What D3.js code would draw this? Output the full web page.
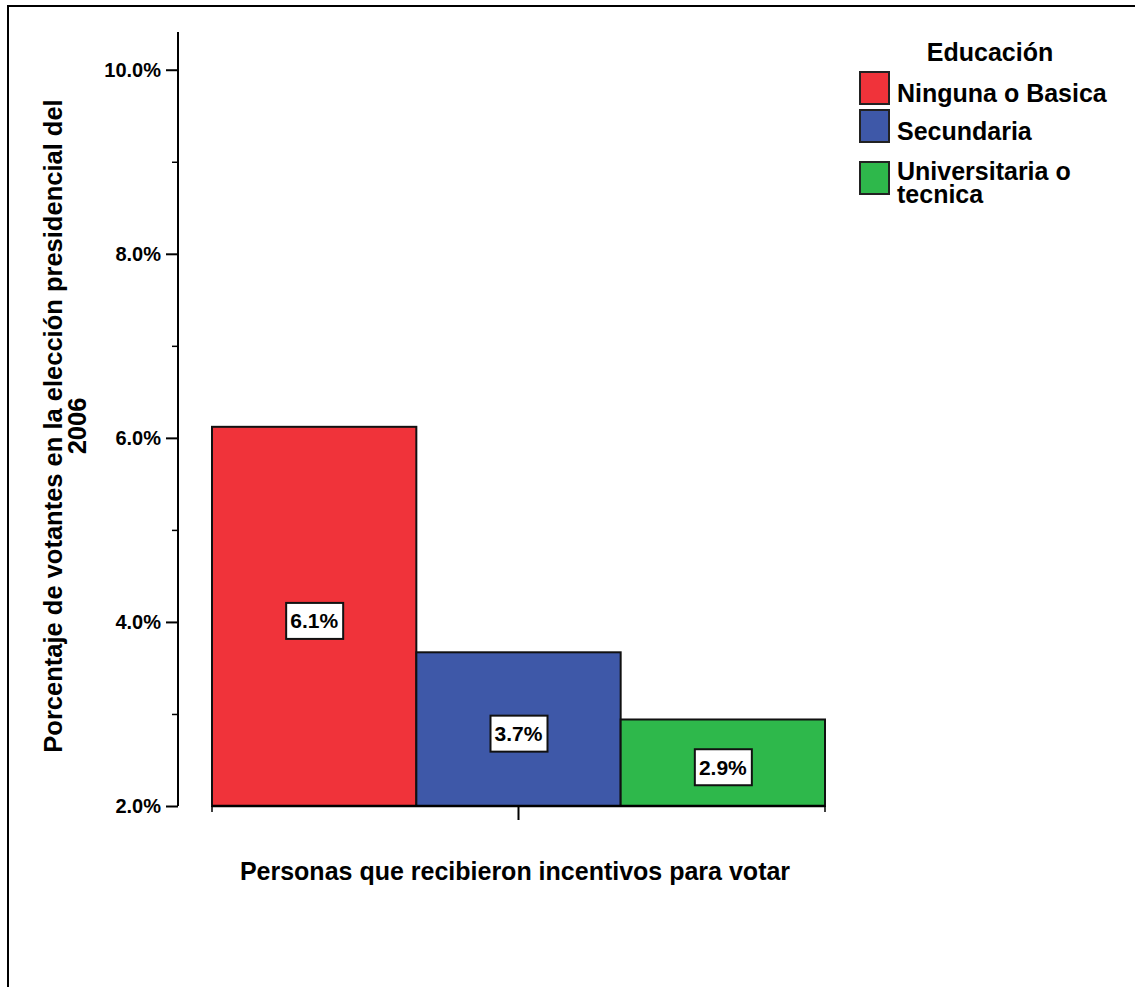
<!DOCTYPE html>
<html>
<head>
<meta charset="utf-8">
<script src="https://cdn.jsdelivr.net/npm/d3@7"></script>
<style>
  html, body { margin: 0; padding: 0; background: #fff; }
  svg text { font-family: "Liberation Sans", Arial, sans-serif; font-weight: bold; fill: #000; }
</style>
</head>
<body>
<div id="chart"></div>
<script>
// Data
const series = ['Ninguna o Basica', 'Secundaria', 'Universitaria o tecnica'];
const legendLines = [['Ninguna o Basica'], ['Secundaria'], ['Universitaria o', 'tecnica']];
const values = [6.12, 3.67, 2.94];
const colors = ['#f0333a', '#3e58a8', '#2eb84b'];
const majorTicks = [2, 4, 6, 8, 10];
const minorTicks = [3, 5, 7, 9];

const W = 1135, H = 987;
const svg = d3.select('#chart').append('svg')
  .attr('width', W)
  .attr('height', H);

// outer frame
svg.append('rect')
  .attr('x', 8).attr('y', 6)
  .attr('width', W + 20).attr('height', H + 20)
  .attr('fill', 'none')
  .attr('stroke', '#000')
  .attr('stroke-width', 2);

// Scales
const y = d3.scaleLinear().domain([2, 10.41]).range([806, 32]);
const x = d3.scaleBand().domain(series).range([212, 825]).padding(0);

// Bars
svg.selectAll('.bar')
  .data(series)
  .enter()
  .append('rect')
  .attr('class', 'bar')
  .attr('x', d => x(d))
  .attr('y', (d, i) => y(values[i]))
  .attr('width', x.bandwidth())
  .attr('height', (d, i) => y(2) - y(values[i]))
  .attr('fill', (d, i) => colors[i])
  .attr('stroke', '#111')
  .attr('stroke-width', 2);

// Y axis (major + minor)
const yAxis = svg.append('g')
  .attr('transform', 'translate(178,0)')
  .call(d3.axisLeft(y).tickValues(majorTicks).tickSize(12).tickPadding(5)
    .tickFormat(d => d.toFixed(1) + '%'));
yAxis.selectAll('text').style('font-size', '20px');
yAxis.selectAll('line').attr('stroke', '#000').attr('stroke-width', 2);
yAxis.select('.domain').attr('stroke', '#000').attr('stroke-width', 2)
  .attr('d', `M0,${y.range()[1]}V${y.range()[0]}`);

const yMinor = svg.append('g')
  .attr('transform', 'translate(178,0)')
  .call(d3.axisLeft(y).tickValues(minorTicks).tickSize(6).tickFormat(''));
yMinor.select('.domain').remove();
yMinor.selectAll('line').attr('stroke', '#000').attr('stroke-width', 1.5);

// X axis: baseline, cluster bounds and center tick
const xAxisG = svg.append('g');
xAxisG.append('line')
  .attr('x1', x.range()[0]).attr('x2', x.range()[1])
  .attr('y1', y(2)).attr('y2', y(2))
  .attr('stroke', '#000').attr('stroke-width', 2.5);
xAxisG.selectAll('.edge')
  .data(x.range())
  .enter()
  .append('line')
  .attr('x1', d => d).attr('x2', d => d)
  .attr('y1', y(2)).attr('y2', y(2) + 6)
  .attr('stroke', '#000').attr('stroke-width', 1.5);
const xMid = (x.range()[0] + x.range()[1]) / 2;
xAxisG.append('line')
  .attr('x1', xMid).attr('x2', xMid)
  .attr('y1', y(2)).attr('y2', y(2) + 14)
  .attr('stroke', '#000').attr('stroke-width', 2);

// Value labels
const labels = svg.selectAll('.vlabel')
  .data(series)
  .enter()
  .append('g')
  .attr('class', 'vlabel')
  .attr('transform', (d, i) => `translate(${x(d) + x.bandwidth() / 2},${(y(values[i]) + y(2)) / 2 + 4.5})`);
labels.append('rect')
  .attr('x', -28).attr('y', -18)
  .attr('width', 57).attr('height', 36)
  .attr('fill', '#fff')
  .attr('stroke', '#111')
  .attr('stroke-width', 2);
labels.append('text')
  .attr('text-anchor', 'middle')
  .attr('dy', '0.36em')
  .style('font-size', '21px')
  .text((d, i) => values[i].toFixed(1) + '%');

// Axis titles
svg.append('text')
  .attr('x', 515)
  .attr('y', 880)
  .attr('text-anchor', 'middle')
  .style('font-size', '25px')
  .text('Personas que recibieron incentivos para votar');

const yTitle = svg.append('text')
  .attr('transform', 'translate(62,426) rotate(-90)')
  .attr('text-anchor', 'middle')
  .style('font-size', '25.5px');
yTitle.append('tspan').attr('x', 0).attr('y', 0)
  .text('Porcentaje de votantes en la elección presidencial del');
yTitle.append('tspan').attr('x', 0).attr('y', 24)
  .text('2006');

// Legend
const legend = svg.append('g');
legend.append('text')
  .attr('x', 990)
  .attr('y', 61)
  .attr('text-anchor', 'middle')
  .style('font-size', '25px')
  .text('Educación');
const swatchY = [72, 110, 162];
const items = legend.selectAll('.item')
  .data(series)
  .enter()
  .append('g')
  .attr('class', 'item')
  .attr('transform', (d, i) => `translate(860,${swatchY[i]})`);
items.append('rect')
  .attr('width', 29).attr('height', 32)
  .attr('fill', (d, i) => colors[i])
  .attr('stroke', '#222')
  .attr('stroke-width', 2);
items.append('text')
  .attr('x', 37)
  .attr('y', (d, i) => i === 2 ? 18 : 30)
  .style('font-size', '25px')
  .selectAll('tspan')
  .data((d, i) => legendLines[i])
  .enter()
  .append('tspan')
  .attr('x', 37)
  .attr('dy', (d, j) => j === 0 ? 0 : 23)
  .text(d => d);
</script>
</body>
</html>
